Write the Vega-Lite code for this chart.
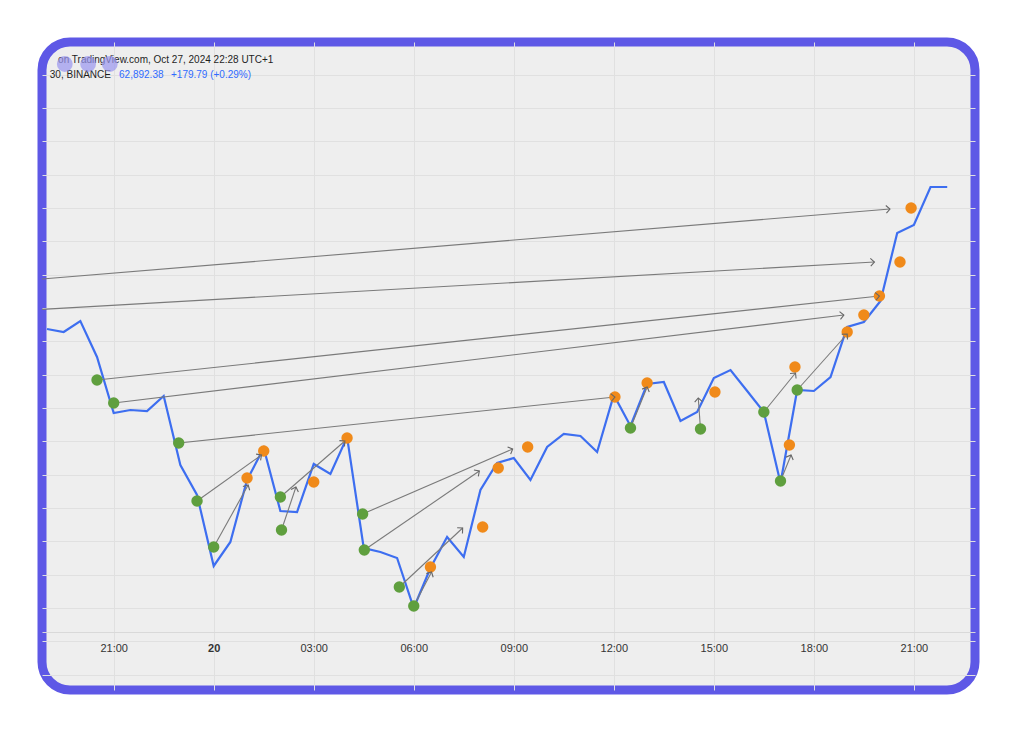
{
  "$schema": "https://vega.github.io/schema/vega-lite/v6.json",
  "width": 933,
  "height": 648,
  "autosize": {"type": "none"},
  "padding": {"left": 42, "top": 42, "right": 49, "bottom": 62},
  "background": "white",
  "config": {
    "view": {"fill": "#eeeeee", "stroke": "#5e58e6", "strokeWidth": 9, "cornerRadius": 28},
    "font": "Liberation Sans"
  },
  "datasets": {
    "price": [
      {"t": "2024-10-19T19:00Z", "price": 68737},
      {"t": "2024-10-19T19:30Z", "price": 68728},
      {"t": "2024-10-19T20:00Z", "price": 68761},
      {"t": "2024-10-19T20:30Z", "price": 68653},
      {"t": "2024-10-19T21:00Z", "price": 68485},
      {"t": "2024-10-19T21:30Z", "price": 68494},
      {"t": "2024-10-19T22:00Z", "price": 68491},
      {"t": "2024-10-19T22:30Z", "price": 68536},
      {"t": "2024-10-19T23:00Z", "price": 68329},
      {"t": "2024-10-19T23:30Z", "price": 68239},
      {"t": "2024-10-20T00:00Z", "price": 68026},
      {"t": "2024-10-20T00:30Z", "price": 68098},
      {"t": "2024-10-20T01:00Z", "price": 68284},
      {"t": "2024-10-20T01:30Z", "price": 68380},
      {"t": "2024-10-20T02:00Z", "price": 68191},
      {"t": "2024-10-20T02:30Z", "price": 68188},
      {"t": "2024-10-20T03:00Z", "price": 68332},
      {"t": "2024-10-20T03:30Z", "price": 68302},
      {"t": "2024-10-20T04:00Z", "price": 68413},
      {"t": "2024-10-20T04:30Z", "price": 68080},
      {"t": "2024-10-20T05:00Z", "price": 68068},
      {"t": "2024-10-20T05:30Z", "price": 68050},
      {"t": "2024-10-20T06:00Z", "price": 67900},
      {"t": "2024-10-20T06:30Z", "price": 68020},
      {"t": "2024-10-20T07:00Z", "price": 68113},
      {"t": "2024-10-20T07:30Z", "price": 68053},
      {"t": "2024-10-20T08:00Z", "price": 68254},
      {"t": "2024-10-20T08:30Z", "price": 68335},
      {"t": "2024-10-20T09:00Z", "price": 68350},
      {"t": "2024-10-20T09:30Z", "price": 68284},
      {"t": "2024-10-20T10:00Z", "price": 68383},
      {"t": "2024-10-20T10:30Z", "price": 68422},
      {"t": "2024-10-20T11:00Z", "price": 68416},
      {"t": "2024-10-20T11:30Z", "price": 68368},
      {"t": "2024-10-20T12:00Z", "price": 68539},
      {"t": "2024-10-20T12:30Z", "price": 68446},
      {"t": "2024-10-20T13:00Z", "price": 68572},
      {"t": "2024-10-20T13:30Z", "price": 68578},
      {"t": "2024-10-20T14:00Z", "price": 68461},
      {"t": "2024-10-20T14:30Z", "price": 68488},
      {"t": "2024-10-20T15:00Z", "price": 68590},
      {"t": "2024-10-20T15:30Z", "price": 68614},
      {"t": "2024-10-20T16:00Z", "price": 68551},
      {"t": "2024-10-20T16:30Z", "price": 68488},
      {"t": "2024-10-20T17:00Z", "price": 68275},
      {"t": "2024-10-20T17:30Z", "price": 68554},
      {"t": "2024-10-20T18:00Z", "price": 68551},
      {"t": "2024-10-20T18:30Z", "price": 68593},
      {"t": "2024-10-20T19:00Z", "price": 68743},
      {"t": "2024-10-20T19:30Z", "price": 68758},
      {"t": "2024-10-20T20:00Z", "price": 68821},
      {"t": "2024-10-20T20:30Z", "price": 69025},
      {"t": "2024-10-20T21:00Z", "price": 69049},
      {"t": "2024-10-20T21:30Z", "price": 69163},
      {"t": "2024-10-20T22:00Z", "price": 69163}
    ],
    "signals": [
      {"t": "2024-10-19T20:30Z", "price": 68584, "type": "entry"},
      {"t": "2024-10-19T21:00Z", "price": 68515, "type": "entry"},
      {"t": "2024-10-19T22:57Z", "price": 68395, "type": "entry"},
      {"t": "2024-10-19T23:30Z", "price": 68221, "type": "entry"},
      {"t": "2024-10-20T00:00Z", "price": 68083, "type": "entry"},
      {"t": "2024-10-20T02:00Z", "price": 68233, "type": "entry"},
      {"t": "2024-10-20T02:02Z", "price": 68134, "type": "entry"},
      {"t": "2024-10-20T04:28Z", "price": 68182, "type": "entry"},
      {"t": "2024-10-20T04:31Z", "price": 68074, "type": "entry"},
      {"t": "2024-10-20T05:34Z", "price": 67963, "type": "entry"},
      {"t": "2024-10-20T06:00Z", "price": 67906, "type": "entry"},
      {"t": "2024-10-20T12:30Z", "price": 68440, "type": "entry"},
      {"t": "2024-10-20T14:36Z", "price": 68437, "type": "entry"},
      {"t": "2024-10-20T16:30Z", "price": 68488, "type": "entry"},
      {"t": "2024-10-20T17:00Z", "price": 68281, "type": "entry"},
      {"t": "2024-10-20T17:30Z", "price": 68554, "type": "entry"},
      {"t": "2024-10-20T01:00Z", "price": 68290, "type": "target"},
      {"t": "2024-10-20T01:30Z", "price": 68371, "type": "target"},
      {"t": "2024-10-20T03:00Z", "price": 68278, "type": "target"},
      {"t": "2024-10-20T04:00Z", "price": 68410, "type": "target"},
      {"t": "2024-10-20T06:30Z", "price": 68023, "type": "target"},
      {"t": "2024-10-20T08:04Z", "price": 68143, "type": "target"},
      {"t": "2024-10-20T08:32Z", "price": 68320, "type": "target"},
      {"t": "2024-10-20T09:25Z", "price": 68383, "type": "target"},
      {"t": "2024-10-20T12:02Z", "price": 68533, "type": "target"},
      {"t": "2024-10-20T13:00Z", "price": 68575, "type": "target"},
      {"t": "2024-10-20T15:02Z", "price": 68548, "type": "target"},
      {"t": "2024-10-20T17:16Z", "price": 68389, "type": "target"},
      {"t": "2024-10-20T17:26Z", "price": 68623, "type": "target"},
      {"t": "2024-10-20T19:00Z", "price": 68728, "type": "target"},
      {"t": "2024-10-20T19:30Z", "price": 68779, "type": "target"},
      {"t": "2024-10-20T19:58Z", "price": 68836, "type": "target"},
      {"t": "2024-10-20T20:35Z", "price": 68938, "type": "target"},
      {"t": "2024-10-20T20:55Z", "price": 69100, "type": "target"}
    ],
    "arrows": [
      {"t1": "2024-10-19T18:30Z", "p1": 68884, "t2": "2024-10-20T20:17Z", "p2": 69097},
      {"t1": "2024-10-19T18:30Z", "p1": 68794, "t2": "2024-10-20T19:49Z", "p2": 68938},
      {"t1": "2024-10-19T20:30Z", "p1": 68584, "t2": "2024-10-20T19:58Z", "p2": 68836},
      {"t1": "2024-10-19T21:00Z", "p1": 68515, "t2": "2024-10-20T18:54Z", "p2": 68779},
      {"t1": "2024-10-19T22:57Z", "p1": 68395, "t2": "2024-10-20T12:02Z", "p2": 68533},
      {"t1": "2024-10-19T23:30Z", "p1": 68221, "t2": "2024-10-20T01:26Z", "p2": 68359},
      {"t1": "2024-10-20T00:00Z", "p1": 68083, "t2": "2024-10-20T01:02Z", "p2": 68269},
      {"t1": "2024-10-20T02:00Z", "p1": 68233, "t2": "2024-10-20T03:56Z", "p2": 68401},
      {"t1": "2024-10-20T02:02Z", "p1": 68134, "t2": "2024-10-20T02:28Z", "p2": 68263},
      {"t1": "2024-10-20T04:28Z", "p1": 68182, "t2": "2024-10-20T08:58Z", "p2": 68377},
      {"t1": "2024-10-20T04:31Z", "p1": 68074, "t2": "2024-10-20T07:58Z", "p2": 68311},
      {"t1": "2024-10-20T05:34Z", "p1": 67963, "t2": "2024-10-20T07:28Z", "p2": 68140},
      {"t1": "2024-10-20T06:00Z", "p1": 67906, "t2": "2024-10-20T06:32Z", "p2": 68008},
      {"t1": "2024-10-20T12:30Z", "p1": 68440, "t2": "2024-10-20T13:00Z", "p2": 68563},
      {"t1": "2024-10-20T14:36Z", "p1": 68437, "t2": "2024-10-20T14:32Z", "p2": 68530},
      {"t1": "2024-10-20T16:30Z", "p1": 68488, "t2": "2024-10-20T17:27Z", "p2": 68605},
      {"t1": "2024-10-20T17:00Z", "p1": 68281, "t2": "2024-10-20T17:19Z", "p2": 68359},
      {"t1": "2024-10-20T17:30Z", "p1": 68554, "t2": "2024-10-20T19:00Z", "p2": 68722}
    ]
  },
  "layer": [
    {
      "data": {"name": "price"},
      "mark": {"type": "line", "color": "#3d6ef0", "strokeWidth": 2.2},
      "encoding": {
        "x": {
          "field": "t", "type": "temporal",
          "scale": {"type": "utc", "domain": [1729363860000, 1729464600000]},
          "axis": {
            "title": null, "orient": "bottom", "offset": -58,
            "values": [1729371600000, 1729382400000, 1729393200000, 1729404000000, 1729414800000, 1729425600000, 1729436400000, 1729447200000, 1729458000000],
            "labelExpr": "utchours(datum.value) == 0 ? utcFormat(datum.value, '%d') : utcFormat(datum.value, '%H:%M')",
            "labelFontWeight": {"condition": {"test": "utchours(datum.value) == 0", "value": "bold"}, "value": "normal"},
            "labelColor": "#333333", "labelFontSize": 11,
            "tickSize": 0, "labelPadding": 10,
            "domainColor": "#d9d9d9", "grid": true, "gridColor": "#e0e0e0"
          }
        },
        "y": {
          "field": "price", "type": "quantitative",
          "scale": {"domain": [67654, 69598], "zero": false, "nice": false},
          "axis": {"title": null, "orient": "right", "labels": false, "ticks": false, "domain": false, "grid": true, "gridColor": "#e0e0e0", "tickCount": 20}
        }
      }
    },
    {
      "data": {"name": "arrows"},
      "mark": {"type": "rule", "color": "#7a7a7a", "strokeWidth": 1.1, "clip": true},
      "encoding": {
        "x": {"field": "t1", "type": "temporal"},
        "y": {"field": "p1", "type": "quantitative"},
        "x2": {"field": "t2"},
        "y2": {"field": "p2"}
      }
    },
    {
      "data": {"name": "signals"},
      "mark": {"type": "circle", "size": 130, "opacity": 1},
      "encoding": {
        "x": {"field": "t", "type": "temporal"},
        "y": {"field": "price", "type": "quantitative"},
        "color": {"field": "type", "type": "nominal", "scale": {"domain": ["entry", "target"], "range": ["#5f9f3e", "#f08a1a"]}, "legend": null}
      }
    },
    {
      "data": {"name": "arrows"},
      "transform": [
        {"calculate": "atan2(-(datum.p2 - datum.p1) / 3, (toDate(datum.t2) - toDate(datum.t1)) / 107974) * 180 / PI", "as": "ang"}
      ],
      "mark": {"type": "point", "shape": "M-1,-1L0,0L-1,1", "filled": false, "size": 60, "strokeWidth": 1.1, "color": "#666666", "opacity": 1},
      "encoding": {
        "x": {"field": "t2", "type": "temporal"},
        "y": {"field": "p2", "type": "quantitative"},
        "angle": {"field": "ang", "type": "quantitative", "scale": null}
      }
    },
    {
      "data": {"values": [{}]},
      "mark": {"type": "text", "align": "left", "baseline": "middle", "fontSize": 10, "color": "#1e1e1e"},
      "encoding": {
        "x": {"datum": 1729365600000, "type": "temporal"},
        "y": {"datum": 69544, "type": "quantitative"},
        "text": {"value": "on TradingView.com, Oct 27, 2024 22:28 UTC+1"}
      }
    },
    {
      "data": {"values": [{}]},
      "mark": {"type": "text", "align": "left", "baseline": "middle", "fontSize": 10, "color": "#1e1e1e"},
      "encoding": {
        "x": {"datum": 1729364700000, "type": "temporal"},
        "y": {"datum": 69499, "type": "quantitative"},
        "text": {"value": "30, BINANCE"}
      }
    },
    {
      "data": {"values": [{}]},
      "mark": {"type": "text", "align": "left", "baseline": "middle", "fontSize": 10, "color": "#2f6bff"},
      "encoding": {
        "x": {"datum": 1729372176000, "type": "temporal"},
        "y": {"datum": 69499, "type": "quantitative"},
        "text": {"value": "62,892.38"}
      }
    },
    {
      "data": {"values": [{}]},
      "mark": {"type": "text", "align": "left", "baseline": "middle", "fontSize": 10, "color": "#2f6bff"},
      "encoding": {
        "x": {"datum": 1729377786000, "type": "temporal"},
        "y": {"datum": 69499, "type": "quantitative"},
        "text": {"value": "+179.79 (+0.29%)"}
      }
    },
    {
      "data": {"values": [{}]},
      "mark": {"type": "circle", "size": 250, "color": "#9a95ef", "opacity": 0.7},
      "encoding": {
        "x": {"datum": 1729366320000, "type": "temporal"},
        "y": {"datum": 69532, "type": "quantitative"}
      }
    },
    {
      "data": {"values": [{}]},
      "mark": {"type": "circle", "size": 250, "color": "#9a95ef", "opacity": 0.7},
      "encoding": {
        "x": {"datum": 1729368840000, "type": "temporal"},
        "y": {"datum": 69532, "type": "quantitative"}
      }
    },
    {
      "data": {"values": [{}]},
      "mark": {"type": "circle", "size": 250, "color": "#9a95ef", "opacity": 0.7},
      "encoding": {
        "x": {"datum": 1729371180000, "type": "temporal"},
        "y": {"datum": 69532, "type": "quantitative"}
      }
    }
  ]
}
